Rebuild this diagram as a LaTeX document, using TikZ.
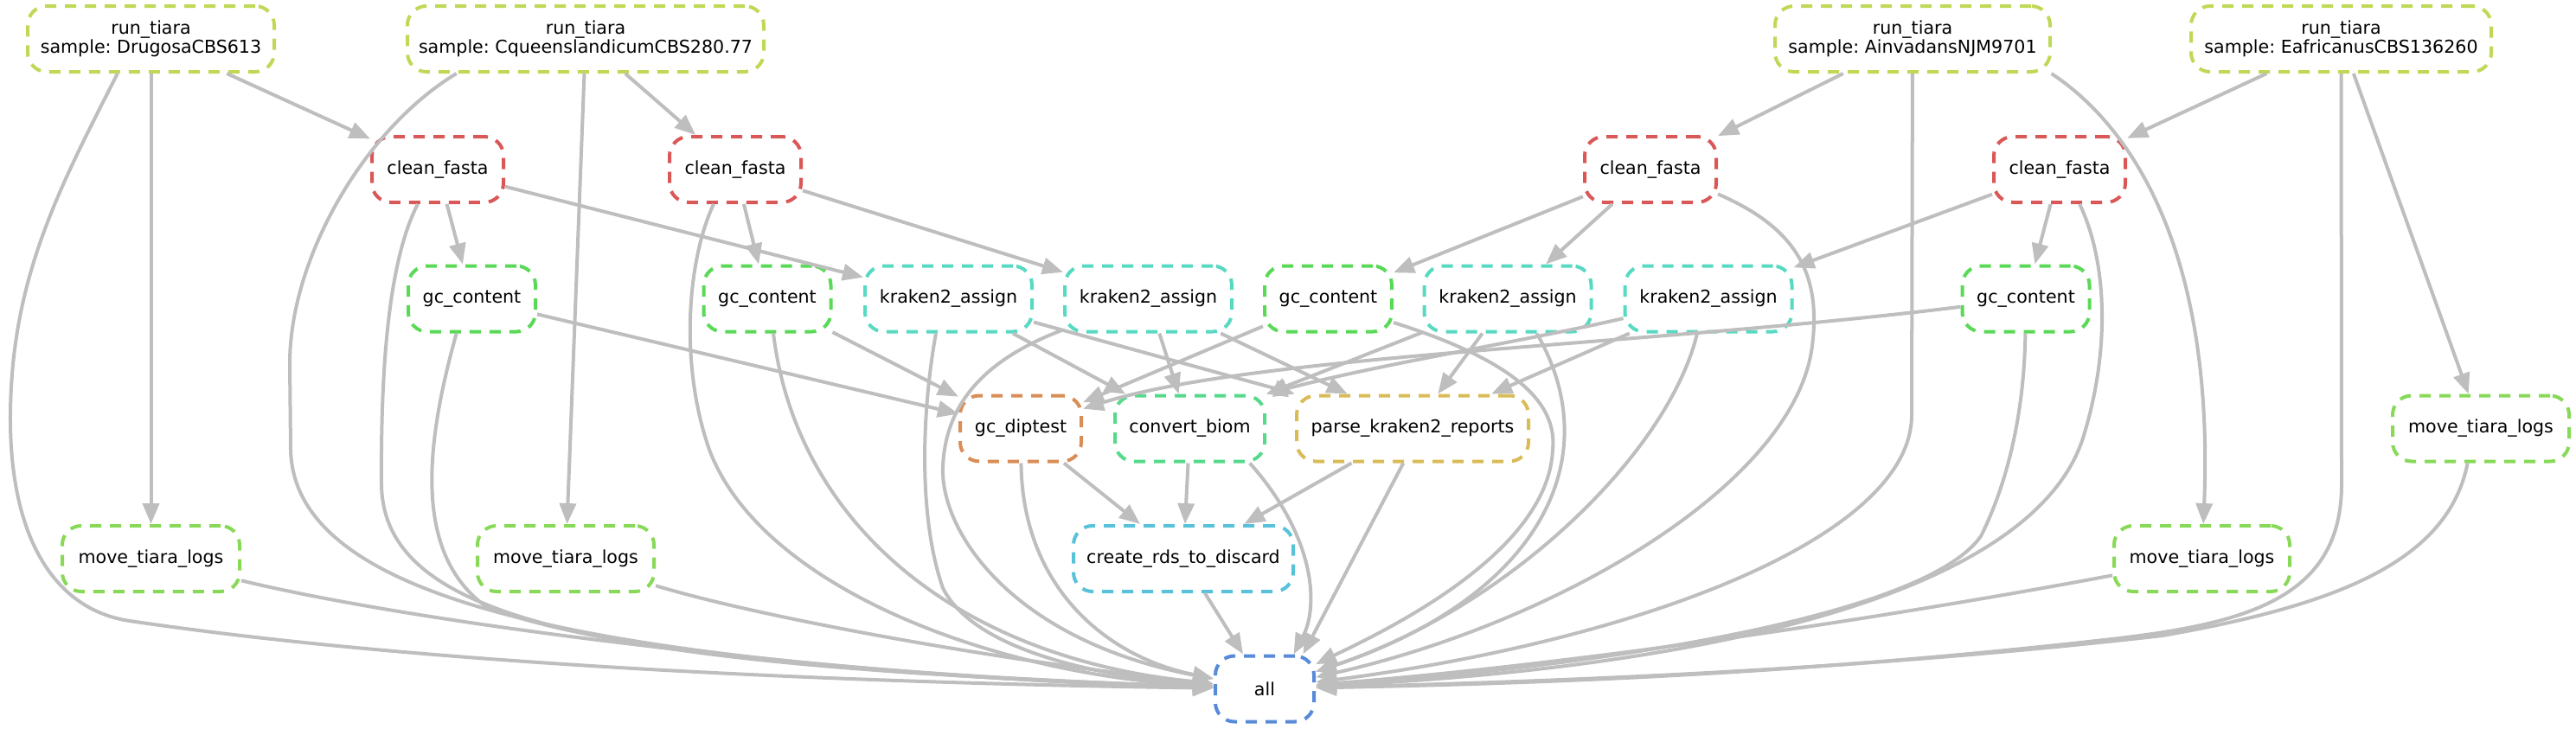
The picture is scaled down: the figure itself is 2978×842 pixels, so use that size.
\documentclass[tikz,border=0pt]{standalone}
\usepackage{fontspec}
\setmainfont{DejaVu Sans}
\usetikzlibrary{arrows.meta}
\frenchspacing
\definecolor{runcol}{RGB}{191,217,87}
\definecolor{cfcol}{RGB}{217,87,87}
\definecolor{gccol}{RGB}{90,217,87}
\definecolor{kcol}{RGB}{87,217,194}
\definecolor{gdcol}{RGB}{217,142,87}
\definecolor{cbcol}{RGB}{87,217,139}
\definecolor{pkcol}{RGB}{217,188,87}
\definecolor{crdcol}{RGB}{87,194,217}
\definecolor{mtcol}{RGB}{136,217,87}
\definecolor{allcol}{RGB}{87,139,217}
\definecolor{edgegrey}{RGB}{190,190,190}
\tikzset{
  rulebox/.style={draw=#1, rounded corners=11pt, dash pattern=on 6.5pt off 5pt,
    line width=2pt, minimum height=38pt, inner sep=0pt, align=center,
    font=\fontsize{10.3}{11.3}\selectfont},
  dep/.style={draw=edgegrey, line width=2pt, -{Triangle[length=12pt,width=9.5pt]}}
}
\begin{document}
\begin{tikzpicture}[x=0.5pt,y=-0.5pt]
\useasboundingbox (0,0) rectangle (2978,842);
% row 1
\node[rulebox=runcol, minimum width=142.5pt] (runD) at (174.5,45) {run\_tiara\\sample: DrugosaCBS613};
\node[rulebox=runcol, minimum width=206pt] (runC) at (677,45) {run\_tiara\\sample: CqueenslandicumCBS280.77};
\node[rulebox=runcol, minimum width=159pt] (runA) at (2211,45) {run\_tiara\\sample: AinvadansNJM9701};
\node[rulebox=runcol, minimum width=173.5pt] (runE) at (2706.5,45) {run\_tiara\\sample: EafricanusCBS136260};
% row 2
\node[rulebox=cfcol, minimum width=76pt] (cf1) at (506,196) {clean\_fasta};
\node[rulebox=cfcol, minimum width=76pt] (cf2) at (850,196) {clean\_fasta};
\node[rulebox=cfcol, minimum width=76pt] (cf3) at (1908,196) {clean\_fasta};
\node[rulebox=cfcol, minimum width=76pt] (cf4) at (2381,196) {clean\_fasta};
% row 3
\node[rulebox=gccol, minimum width=73.5pt] (gc1) at (545.5,345.5) {gc\_content};
\node[rulebox=gccol, minimum width=73.5pt] (gc2) at (887,345.5) {gc\_content};
\node[rulebox=kcol, minimum width=96.5pt] (k1) at (1096.5,345.5) {kraken2\_assign};
\node[rulebox=kcol, minimum width=96.5pt] (k2) at (1327.5,345.5) {kraken2\_assign};
\node[rulebox=gccol, minimum width=73.5pt] (gc3) at (1535.5,345.5) {gc\_content};
\node[rulebox=kcol, minimum width=96.5pt] (k3) at (1743,345.5) {kraken2\_assign};
\node[rulebox=kcol, minimum width=96.5pt] (k4) at (1975,345.5) {kraken2\_assign};
\node[rulebox=gccol, minimum width=73.5pt] (gc4) at (2342,345.5) {gc\_content};
% row 4
\node[rulebox=gdcol, minimum width=70pt] (gcd) at (1180,495.5) {gc\_diptest};
\node[rulebox=cbcol, minimum width=86.5pt] (cb) at (1375.5,495.5) {convert\_biom};
\node[rulebox=pkcol, minimum width=134pt] (pk) at (1633,495.5) {parse\_kraken2\_reports};
\node[rulebox=mtcol, minimum width=102pt] (mtE) at (2868,495.5) {move\_tiara\_logs};
% row 5
\node[rulebox=mtcol, minimum width=102.5pt] (mtD) at (174.5,646) {move\_tiara\_logs};
\node[rulebox=mtcol, minimum width=102pt] (mtC) at (654,646) {move\_tiara\_logs};
\node[rulebox=crdcol, minimum width=127pt] (crd) at (1368,646) {create\_rds\_to\_discard};
\node[rulebox=mtcol, minimum width=101.5pt] (mtA) at (2545.5,646) {move\_tiara\_logs};
% row 6
\node[rulebox=allcol, minimum width=57pt] (all) at (1462,796.5) {all};

% run_tiara edges
\draw[dep] (runD) -- (cf1);
\draw[dep] (runD) -- (mtD);
\draw[dep] (runD.-134) .. controls (70,215) and (13,320) .. (12,480) .. controls (11,620) and (62,705) .. (150,718) .. controls (500,770) and (1000,790) .. (all);
\draw[dep] (runC) -- (cf2);
\draw[dep] (runC) -- (mtC);
\draw[dep] (runC.-165) .. controls (420,150) and (335,300) .. (335,420) -- (336,520) .. controls (340,700) and (700,770) .. (all);
\draw[dep] (runA) -- (cf3);
\draw[dep] (runA.-14) .. controls (2470,150) and (2560,300) .. (mtA);
\draw[dep] (runA) -- (2210,480) .. controls (2210,620) and (1900,740) .. (all);
\draw[dep] (runE) -- (cf4);
\draw[dep] (runE) -- (mtE);
\draw[dep] (runE) -- (2707,560) .. controls (2707,690) and (2600,720) .. (2450,738) .. controls (2100,778) and (1800,790) .. (all);

% clean_fasta edges
\draw[dep] (cf1) -- (gc1);
\draw[dep] (cf1) -- (k1);
\draw[dep] (cf1.-120) .. controls (450,300) and (440,420) .. (441,560) .. controls (443,720) and (700,770) .. (all);
\draw[dep] (cf2) -- (gc2);
\draw[dep] (cf2) -- (k2);
\draw[dep] (cf2.-122) .. controls (795,300) and (785,420) .. (820,520) .. controls (880,680) and (1150,780) .. (all);
\draw[dep] (cf3) -- (gc3);
\draw[dep] (cf3) -- (k3);
\draw[dep] (cf3.-20) .. controls (2080,265) and (2105,320) .. (2095,400) .. controls (2075,560) and (1800,720) .. (all);
\draw[dep] (cf4) -- (k4);
\draw[dep] (cf4) -- (gc4);
\draw[dep] (cf4.-60) .. controls (2435,300) and (2440,400) .. (2410,500) .. controls (2360,680) and (2000,770) .. (all);

% gc_content edges
\draw[dep] (gc1) -- (gcd);
\draw[dep] (gc1.-114) .. controls (490,520) and (480,640) .. (560,700) .. controls (700,760) and (1100,785) .. (all);
\draw[dep] (gc2) -- (gcd);
\draw[dep] (gc2.-80) .. controls (920,600) and (1100,760) .. (all);
\draw[dep] (gc3) -- (gcd);
\draw[dep] (gc3.-20) .. controls (1760,420) and (1800,470) .. (1795,520) .. controls (1790,640) and (1600,730) .. (all);
\draw[dep] (gc4) .. controls (1900,400) and (1450,410) .. (gcd);
\draw[dep] (gc4) .. controls (2340,480) and (2320,560) .. (2290,620) .. controls (2220,720) and (1800,775) .. (all);

% kraken2_assign edges
\draw[dep] (k1) -- (cb);
\draw[dep] (k1) -- (pk.north west);
\draw[dep] (k1.-110) .. controls (1065,480) and (1062,600) .. (1090,680) .. controls (1130,760) and (1300,785) .. (all);
\draw[dep] (k2) -- (cb);
\draw[dep] (k2) -- (pk.152);
\draw[dep] (k2.-160) .. controls (1140,415) and (1093,465) .. (1090,540) .. controls (1087,615) and (1170,740) .. (all);
\draw[dep] (k3) -- (cb.north east);
\draw[dep] (k3) -- (pk);
\draw[dep] (k3.-50) .. controls (1860,530) and (1780,690) .. (all);
\draw[dep] (k4) .. controls (1760,395) and (1600,420) .. (cb.north east);
\draw[dep] (k4) -- (pk);
\draw[dep] (k4.-108) .. controls (1930,520) and (1750,700) .. (all);

% row 4 edges
\draw[dep] (gcd) -- (crd);
\draw[dep] (gcd) .. controls (1182,680) and (1280,760) .. (all);
\draw[dep] (cb) -- (crd);
\draw[dep] (cb.-30) .. controls (1520,620) and (1525,700) .. (all.50);
\draw[dep] (pk) -- (crd);
\draw[dep] (pk.-105) -- (all.42);
\draw[dep] (crd) -- (all);

% move_tiara_logs edges
\draw[dep] (mtD) .. controls (500,725) and (1000,785) .. (all);
\draw[dep] (mtC) .. controls (900,720) and (1200,770) .. (all);
\draw[dep] (mtA) .. controls (2150,720) and (1800,770) .. (all);
\draw[dep] (mtE.-111) .. controls (2830,650) and (2700,700) .. (2500,735) .. controls (2150,775) and (1800,788) .. (all);
\end{tikzpicture}
\end{document}
